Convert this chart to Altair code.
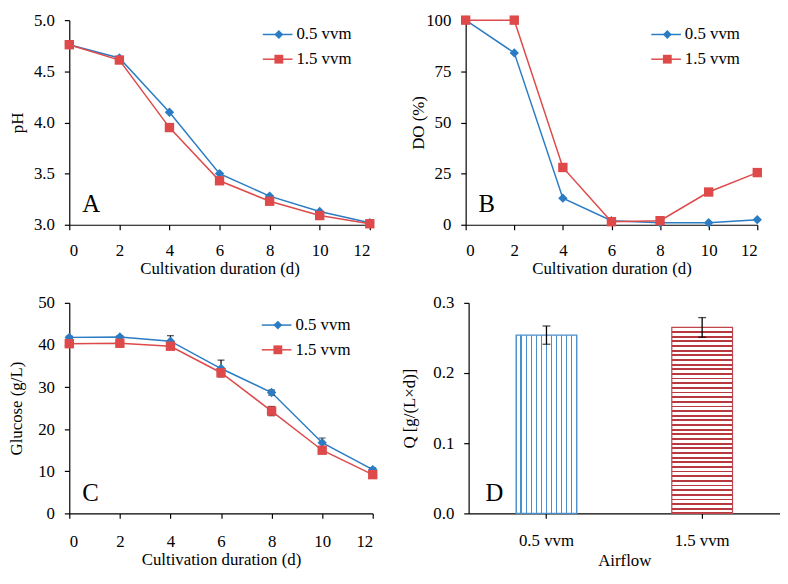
import altair as alt
import pandas as pd

# ---------------- data ----------------
days = [0, 2, 4, 6, 8, 10, 12]
series = ["0.5 vvm", "1.5 vvm"]

ph_05 = [4.76, 4.63, 4.10, 3.50, 3.28, 3.13, 3.02]
ph_15 = [4.76, 4.61, 3.95, 3.43, 3.23, 3.09, 3.01]

do_05 = [100, 84, 13, 2, 1, 1, 2.5]
do_15 = [100, 100, 28, 1.5, 2, 16, 25.5]

glu_05 = [41.8, 41.9, 40.9, 34.4, 28.7, 16.8, 10.4]
glu_15 = [40.3, 40.4, 39.7, 33.4, 24.3, 15.0, 9.2]
glu_err_05 = [0.3, 0.3, 1.3, 2.0, 0.6, 1.1, 0.4]
glu_err_15 = [0.3, 0.3, 0.4, 0.6, 1.1, 0.5, 0.4]

airflow = ["0.5 vvm", "1.5 vvm"]
q_vals = [0.254, 0.265]
q_err = [0.013, 0.014]

# ---------------- style ----------------
FONT = "Liberation Serif, Times New Roman, serif"
BLUE = "#2B7CC2"
RED = "#DE4A4A"
FS = 17


def long_df(a, b, ea=None, eb=None):
    rows = []
    for i, d in enumerate(days):
        rows.append({"d": d, "v": a[i], "s": series[0], "s2": series[0],
                     "e": ea[i] if ea else 0})
        rows.append({"d": d, "v": b[i], "s": series[1], "s2": series[1],
                     "e": eb[i] if eb else 0})
    df = pd.DataFrame(rows)
    df["lo"] = df["v"] - df["e"]
    df["hi"] = df["v"] + df["e"]
    return df


def letter(ch, x, y):
    return alt.Chart(pd.DataFrame({"t": [ch]})).mark_text(
        font=FONT, fontSize=25, align="left", baseline="alphabetic", color="black"
    ).encode(text="t:N", x=alt.value(x), y=alt.value(y))


def line_panel(df, ydom, yvals, ytitle, fmt, ch, lx, ly, w, h, ytp, xtp, xlp=13,
               errors=False):
    x = alt.X("d:Q", scale=alt.Scale(domain=[0, 12], nice=False),
              axis=alt.Axis(values=days, title="Cultivation duration (d)",
                            titlePadding=xtp, labelPadding=xlp))
    y = alt.Y("v:Q", scale=alt.Scale(domain=ydom, nice=False),
              axis=alt.Axis(values=yvals, format=fmt, title=ytitle, titlePadding=ytp,
                            labelPadding=10))
    base = alt.Chart(df)
    # legend: line segment spans lx..lx+30 (plot coords), label starts at lx+31
    lines = base.mark_line(strokeWidth=1.5).encode(
        x=x, y=y,
        stroke=alt.Stroke("s:N", scale=alt.Scale(domain=series, range=[BLUE, RED]),
                          legend=alt.Legend(orient="none", legendX=lx + 9.25, legendY=ly,
                                            title=None, symbolType="M-3,0H3",
                                            symbolSize=100, symbolStrokeWidth=1.5,
                                            labelFont=FONT, labelFontSize=FS,
                                            labelColor="black", labelOffset=10.5,
                                            rowPadding=7, padding=0)),
    )
    shape_leg = alt.Legend(orient="none", legendX=lx + 10.5, legendY=ly,
                           title=None, symbolSize=80, symbolStrokeWidth=0,
                           labelFont=FONT, labelFontSize=FS, labelOpacity=0,
                           labelOffset=10, rowPadding=7, padding=0)
    pts = base.mark_point(filled=True, size=90, opacity=1).encode(
        x="d:Q", y="v:Q",
        fill=alt.Fill("s2:N", scale=alt.Scale(domain=series, range=[BLUE, RED]),
                      legend=shape_leg),
        shape=alt.Shape("s2:N", scale=alt.Scale(domain=series, range=["diamond", "square"]),
                        legend=shape_leg),
    )
    layers = [lines]
    if errors:
        layers.append(base.mark_rule(color="black", strokeWidth=1.2).encode(
            x="d:Q", y="lo:Q", y2="hi:Q"))
        layers.append(base.mark_tick(color="black", orient="horizontal", size=7,
                                     thickness=1.2).encode(x="d:Q", y="hi:Q"))
        layers.append(base.mark_tick(color="black", orient="horizontal", size=7,
                                     thickness=1.2).encode(x="d:Q", y="lo:Q"))
    layers += [pts, letter(ch, 13, h - 13)]
    return alt.layer(*layers).properties(width=w, height=h).resolve_scale(
        stroke="independent", fill="independent", shape="independent")


dfA = long_df(ph_05, ph_15)
dfB = long_df(do_05, do_15)
dfC = long_df(glu_05, glu_15, glu_err_05, glu_err_15)

A = line_panel(dfA, [3, 5], [3.0, 3.5, 4.0, 4.5, 5.0], "pH", ".1f", "A",
               193, 6, 304, 207, 7, 2)
B = line_panel(dfB, [0, 100], [0, 25, 50, 75, 100], "DO (%)", "d", "B",
               185, 6, 295, 207, -2, 2)
C = line_panel(dfC, [0, 50], [0, 10, 20, 30, 40, 50], "Glucose (g/L)", "d", "C",
               192, 14, 307, 213, 12, 3, xlp=15, errors=True)

# ---------------- panel D ----------------
dfD = pd.DataFrame({"a": airflow, "q": q_vals, "qe": q_err})
dfD["lo"] = dfD["q"] - dfD["qe"]
dfD["hi"] = dfD["q"] + dfD["qe"]


def stripes(color, n, horizontal):
    stops = []
    half = 0.012 if not horizontal else 0.05 / n * 4
    for i in range(n + 1):
        c = i / n
        a, b = max(0.0, c - half), min(1.0, c + half)
        if i > 0:
            stops.append({"offset": a, "color": "white"})
        stops.append({"offset": a, "color": color})
        stops.append({"offset": b, "color": color})
        if i < n:
            stops.append({"offset": b, "color": "white"})
    g = {"gradient": "linear", "stops": stops}
    if horizontal:
        g.update({"x1": 0, "x2": 0, "y1": 0, "y2": 1})
    else:
        g.update({"x1": 0, "x2": 1, "y1": 0, "y2": 0})
    return g


xD = alt.X("a:N", scale=alt.Scale(domain=airflow, paddingInner=0.61, paddingOuter=0.305),
           axis=alt.Axis(title="Airflow", labelAngle=0, titlePadding=5, labelPadding=14))
yD = alt.Y("q:Q", scale=alt.Scale(domain=[0, 0.3], nice=False),
           axis=alt.Axis(values=[0, 0.1, 0.2, 0.3], format=".1f",
                         title="Q [g/(L×d)]", titlePadding=14, labelPadding=10))
baseD = alt.Chart(dfD)
bar1 = baseD.transform_filter(alt.datum.a == airflow[0]).mark_bar(
    fill=stripes("#4A8FCB", 12, False), stroke="#4A8FCB", strokeWidth=1.2
).encode(x=xD, y=yD)
bar2 = baseD.transform_filter(alt.datum.a == airflow[1]).mark_bar(
    fill=stripes("#B8383F", 40, True), stroke="#C0454A", strokeWidth=1.2
).encode(x=xD, y=yD)
errD = baseD.mark_rule(color="black", strokeWidth=1.3).encode(x="a:N", y="lo:Q", y2="hi:Q")
capD1 = baseD.mark_tick(color="black", orient="horizontal", size=8, thickness=1.3).encode(
    x="a:N", y="hi:Q")
capD2 = baseD.mark_tick(color="black", orient="horizontal", size=8, thickness=1.3).encode(
    x="a:N", y="lo:Q")
D = alt.layer(bar1, bar2, errD, capD1, capD2, letter("D", 17, 200)).properties(
    width=315, height=213)

row1 = alt.hconcat(A, B, spacing=35).resolve_scale(
    stroke="independent", fill="independent", shape="independent").resolve_legend(
    stroke="independent", fill="independent", shape="independent")
row2 = alt.hconcat(C, D, spacing=23).resolve_scale(
    stroke="independent", fill="independent", shape="independent").resolve_legend(
    stroke="independent", fill="independent", shape="independent")

chart = alt.vconcat(row1, row2, spacing=18).resolve_scale(
    stroke="independent", fill="independent", shape="independent").resolve_legend(
    stroke="independent", fill="independent", shape="independent").properties(
    padding=0
).configure(font=FONT).configure_axis(
    labelFont=FONT, titleFont=FONT, labelFontSize=FS, titleFontSize=FS,
    labelColor="black", titleColor="black", domainColor="black", tickColor="black",
    titleFontWeight="normal", grid=False, tickSize=5, domainWidth=1.2, tickWidth=1.2
).configure_legend(labelFont=FONT).configure_view(stroke=None).configure_text(font=FONT)

chart.save("out.html", embed_options={"renderer": "svg", "actions": False})
